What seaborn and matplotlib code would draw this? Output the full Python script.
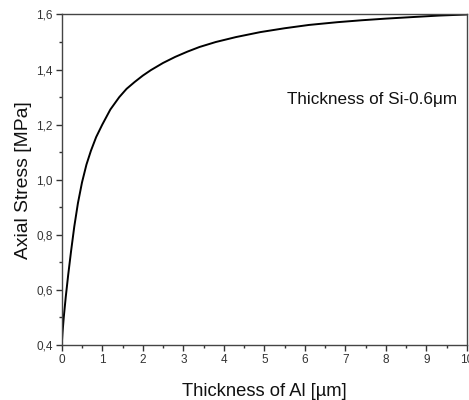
import matplotlib
matplotlib.use("Agg")
import matplotlib.pyplot as plt
from matplotlib.ticker import MultipleLocator, FuncFormatter
import seaborn as sns
import pandas as pd

# Data
thickness_al = [0.0, 0.02, 0.05, 0.10, 0.16, 0.23, 0.31, 0.40, 0.50, 0.61, 0.72, 0.85,
                1.0, 1.2, 1.42, 1.6, 1.8, 2.0, 2.2, 2.5, 2.8, 3.1, 3.4, 3.8, 4.3,
                4.9, 5.5, 6.1, 6.8, 7.4, 8.0, 8.7, 9.3, 10.0]
axial_stress = [0.400, 0.445, 0.500, 0.575, 0.655, 0.740, 0.830, 0.915, 0.990, 1.055, 1.105,
                1.155, 1.200, 1.255, 1.300, 1.330, 1.355, 1.378, 1.398, 1.424, 1.446, 1.465,
                1.482, 1.500, 1.518, 1.536, 1.550, 1.562, 1.572, 1.579, 1.585, 1.591, 1.596,
                1.600]
xticks = [0, 1, 2, 3, 4, 5, 6, 7, 8, 9, 10]
yticks = [0.4, 0.6, 0.8, 1.0, 1.2, 1.4, 1.6]
annotation = "Thickness of Si-0.6\u03bcm"
xlabel = "Thickness of Al [\u00b5m]"
ylabel = "Axial Stress [MPa]"

sns.set_style("ticks")
plt.rcParams['font.family'] = ['Liberation Sans', 'DejaVu Sans']

df = pd.DataFrame({"x": thickness_al, "y": axial_stress})

fig = plt.figure(figsize=(4.69, 4.00), dpi=100)
ax = fig.add_axes([0.1316, 0.1375, 0.8641, 0.8263])
sns.lineplot(data=df, x="x", y="y", ax=ax, color="black", linewidth=1.4, sort=False)

ax.set_xlim(0, 10)
ax.set_ylim(0.4, 1.6)
ax.set_xticks(xticks)
ax.set_yticks(yticks)
ax.xaxis.set_minor_locator(MultipleLocator(0.5))
ax.yaxis.set_minor_locator(MultipleLocator(0.1))
ax.yaxis.set_major_formatter(FuncFormatter(lambda v, p: f"{v:.1f}".replace(".", ",")))
ax.tick_params(which="major", direction="out", length=4, width=1, color="#333333",
               labelsize=8.5, labelcolor="#333333", pad=2.5)
ax.tick_params(which="minor", direction="out", length=2.5, width=1, color="#333333")
for s in ax.spines.values():
    s.set_color("#444444")
    s.set_linewidth(1.0)

ax.set_xlabel(xlabel, fontsize=13.2, color="#111111", labelpad=12)
ax.set_ylabel(ylabel, fontsize=13.9, color="#111111", labelpad=3)
ax.text(0.556, 0.742, annotation, transform=ax.transAxes, fontsize=12.3, color="#111111",
        ha="left", va="center")

fig.savefig("out.png", dpi=100)
